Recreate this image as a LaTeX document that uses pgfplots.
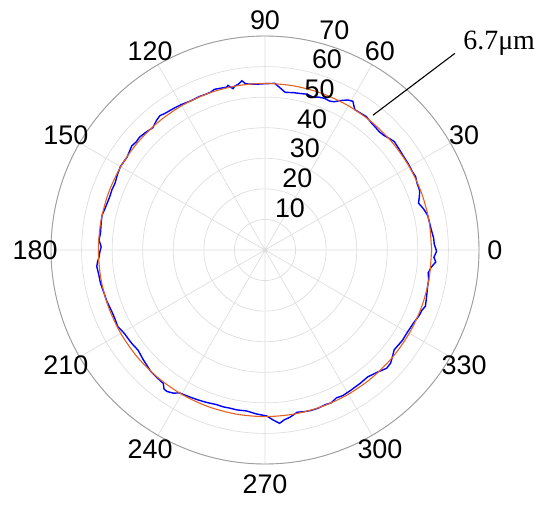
\documentclass[border=0pt]{standalone}
\usepackage{fontspec}
\setmainfont{Liberation Sans}
\newfontfamily\timesfont{Liberation Serif}
\usepackage{pgfplots}
\pgfplotsset{compat=1.18}
\usepgfplotslibrary{polar}

\definecolor{fitorange}{rgb}{0.89,0.38,0.13}
\definecolor{gridgray}{gray}{0.87}
\definecolor{rimgray}{gray}{0.62}

\pgfplotstableread{
ang r
0 56.0
2 55.4
4 55.3
7 54.8
9 54.6
12 54.4
14.5 53.6
17 52.5
19 53.4
21 54.2
23.5 54.3
26 54.8
28 54.6
31 54.7
34 54.7
37 54.9
40 55.2
42 54.6
44 54.0
46 53.8
48 54.0
50 54.2
52.8 54.8
55 54.6
57.4 54.5
59.4 56.5
61 56.1
62.5 55.2
63.6 54.5
65 53.5
66.6 53.1
68.5 53.3
70.7 53.0
72.5 52.4
74.9 52.8
77 52.5
79.8 52.3
82.7 52.0
86.6 54.6
88 54.5
90 54.4
92.9 54.3
95 54.5
96.6 54.7
97.8 55.9
99 55.0
100.5 54.5
101.2 53.8
102.7 55.2
103.3 54.7
105.5 54.9
107.5 55.1
109 54.6
110.7 54.5
113 54.6
116.6 54.5
120 54.9
122.5 55.1
126.3 55.4
128 55.8
129.9 55.3
132.5 54.3
135.4 54.8
138 55.2
140 55.0
142 55.3
146 54.4
150 54.6
153 54.2
156 53.7
158.5 53.8
161 53.7
165 54.0
168 54.5
170.8 54.3
174.3 54.1
176.5 54.4
178.9 53.6
180.5 54.0
182.3 54.3
184 54.9
185.6 55.3
188 55.0
191.4 54.9
195 54.5
198 54.4
201.8 54.0
204.7 54.0
207.5 54.3
210.6 53.5
213.7 53.3
215.3 53.2
218.3 52.9
222 53.6
226.6 54.5
230 54.7
232.7 54.9
234 56.2
235.3 56.3
237.4 55.6
239 54.5
243 54.0
246 53.7
249 53.4
252.5 53.0
255 53.1
257.4 53.0
260 53.1
263.5 53.0
267 53.7
270.6 54.3
272.8 55.7
274.8 56.9
276.5 55.9
278.5 55.3
281.2 54.1
283.5 54.4
285.7 54.6
288.5 54.6
291.3 54.3
293.5 54.5
295.8 53.7
298 54.0
301.3 53.8
305.5 53.6
309 53.4
312.6 54.3
315.8 55.5
318 55.3
320 54.4
322.3 53.4
326.6 53.8
330.2 53.8
334.2 54.2
337 54.8
339 55.0
340.7 55.6
344 55.0
347.5 54.5
349.7 54.4
352 53.9
354 54.6
356 56.0
357.5 55.3
359.5 56.1
360 56.0
}\measured

\pgfplotstableread{
ang r
0 54.5
10 54.5
20 54.5
30 54.5
40 54.5
50 54.5
60 54.5
70 54.5
80 54.5
90 54.5
100 54.5
110 54.5
120 54.5
130 54.5
140 54.5
150 54.5
160 54.5
170 54.5
180 54.5
190 54.5
200 54.5
210 54.5
220 54.5
230 54.5
240 54.5
250 54.5
260 54.5
270 54.5
280 54.5
290 54.5
300 54.5
310 54.5
320 54.5
330 54.5
340 54.5
350 54.5
360 54.5
}\fitted

\begin{document}
\begin{tikzpicture}[
    tlabel/.style={font=\fontsize{27}{32}\selectfont, inner sep=0pt, anchor=center},
  ]
  \begin{polaraxis}[
      scale only axis,
      width=428bp, height=428bp,
      ymin=0, ymax=70,
      xtick={0,30,...,330},
      ytick={10,20,...,70},
      xticklabels={}, yticklabels={},
      xmajorgrids=true, ymajorgrids=true,
      major grid style={draw=gridgray, line width=0.7pt},
      x axis line style={draw=rimgray, line width=0.9pt},
      y axis line style={draw=none},
      major tick length=0pt,
      clip=false,
    ]
    \coordinate (c) at (axis cs:0,0);

    \addplot[blue, line width=1.4pt, mark=none] table[x=ang, y=r] {\measured};
    \addplot[fitorange, line width=1.1pt, mark=none, smooth] table[x=ang, y=r] {\fitted};

    % angle labels
    \node[tlabel] at (axis cs:0,75.2)   {0};
    \node[tlabel] at (axis cs:30,75.2)  {30};
    \node[tlabel] at (axis cs:60,75.2)  {60};
    \node[tlabel] at (axis cs:90,75.2)  {90};
    \node[tlabel] at (axis cs:120,75.2) {120};
    \node[tlabel] at (axis cs:150,75.2) {150};
    \node[tlabel] at (axis cs:180,75.2) {180};
    \node[tlabel] at (axis cs:210,75.2) {210};
    \node[tlabel] at (axis cs:240,75.2) {240};
    \node[tlabel] at (axis cs:270,76.5) {270};
    \node[tlabel] at (axis cs:300,75.2) {300};
    \node[tlabel] at (axis cs:330,75.2) {330};

    % radius labels
    \node[tlabel, xshift=17.6bp, yshift=12.3bp] at (axis cs:76,10) {10};
    \node[tlabel, xshift=17.6bp, yshift=12.3bp] at (axis cs:76,20) {20};
    \node[tlabel, xshift=17.6bp, yshift=12.3bp] at (axis cs:76,30) {30};
    \node[tlabel, xshift=17.6bp, yshift=12.3bp] at (axis cs:76,40) {40};
    \node[tlabel, xshift=17.6bp, yshift=12.3bp] at (axis cs:76,50) {50};
    \node[tlabel, xshift=17.6bp, yshift=12.3bp] at (axis cs:76,60) {60};
    \node[tlabel, xshift=17.6bp, yshift=12.3bp] at (axis cs:76,70) {70};

    % callout
    \draw[black, line width=1.1pt] (axis cs:51.3,56.5) -- (axis cs:46,89.4)
      node[anchor=base west, inner sep=0pt, xshift=8bp, yshift=4bp,
           font=\timesfont\fontsize{28}{32}\selectfont] {6.7μm};
  \end{polaraxis}
  \pgfresetboundingbox
  \path ([shift={(-265bp,-255bp)}]c) rectangle ([shift={(285bp,250bp)}]c);
\end{tikzpicture}
\end{document}
